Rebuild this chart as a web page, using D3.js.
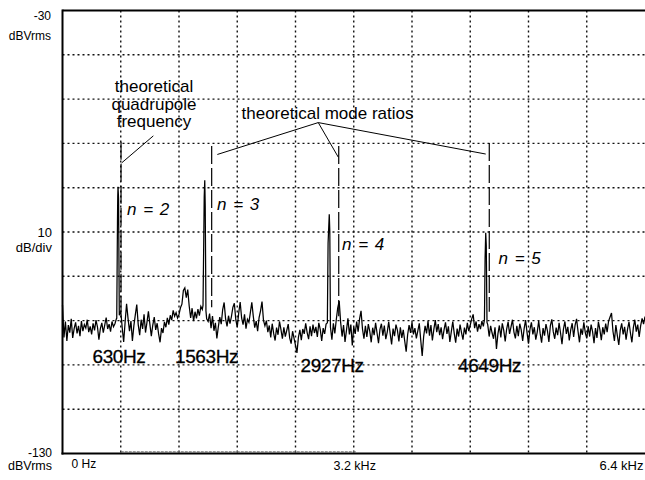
<!DOCTYPE html>
<html>
<head>
<meta charset="utf-8">
<script src="https://cdn.jsdelivr.net/npm/d3@7"></script>
<style>
  html, body { margin: 0; padding: 0; background: #fff; }
  svg { display: block; }
  text { font-family: "Liberation Sans", Arial, Helvetica, sans-serif; fill: #000; }
</style>
</head>
<body>
<svg id="chart" width="645" height="480"></svg>
<script>
// analyzer span and reference level
const spanHz = [0, 6400]
const rangeDb = [-130, -30]
const gridHz = [640, 1280, 1920, 2560, 3200, 3840, 4480, 5120, 5760]
const gridDb = [-120, -110, -100, -90, -80, -70, -60, -50, -40]

// 400 line FFT, one reading every 16 Hz
const binStepHz = 16
const noiseDb = [
  -96.5, -103.8, -100.2, -104.6, -101.0, -102.7, -99.6, -103.9, -101.8, -100.4, -102.9, -101.2, -103.5, -100.1, -102.4, -100.9, -101.7, -99.8, -102.6, -101.3,
  -103.1, -100.6, -102.2, -99.9, -101.4, -104.3, -101.8, -100.5, -102.7, -101.0, -99.3, -101.9, -100.8, -102.5, -100.2, -101.4, -100.7, -99.6, -100.9, -99.1,
  -97.8, -101.6, -104.8, -100.3, -96.2, -99.5, -102.4, -100.1, -104.6, -101.2, -98.7, -96.4, -100.9, -103.3, -99.8, -101.9, -98.6, -102.7, -100.4, -97.9,
  -100.8, -103.5, -101.0, -99.2, -102.1, -100.6, -103.0, -104.9, -101.7, -102.8, -100.3, -101.5, -99.4, -100.9, -98.8, -99.9, -97.7, -99.0, -98.2, -99.4,
  -98.6, -97.1, -96.3, -93.2, -92.6, -94.8, -93.0, -96.7, -99.4, -97.2, -100.1, -98.0, -99.5, -97.4, -98.9, -96.8, -97.5, -95.0, -97.0, -99.6,
  -100.2, -98.4, -101.7, -99.0, -102.3, -100.5, -104.0, -101.4, -99.2, -100.8, -97.5, -95.9, -99.6, -101.3, -98.9, -100.7, -99.1, -97.0, -96.1, -99.8,
  -101.5, -98.3, -95.8, -99.4, -100.9, -98.6, -101.8, -99.7, -100.4, -98.2, -95.9, -99.0, -101.6, -100.1, -102.4, -99.3, -97.8, -95.7, -99.9, -101.2,
  -100.0, -102.6, -101.1, -103.8, -100.7, -102.9, -104.5, -101.6, -103.2, -100.2, -102.0, -104.1, -101.5, -103.6, -102.2, -100.8, -103.9, -105.2, -102.4, -104.0,
  -105.6, -107.3, -103.8, -102.1, -104.4, -101.9, -103.0, -100.6, -102.7, -104.2, -101.3, -103.5, -100.9, -102.8, -101.4, -103.7, -100.5, -102.0, -104.6, -101.7,
  -103.0, -100.8, -99.0, -99.0, -101.9, -104.3, -100.6, -102.9, -99.8, -97.1, -95.6, -100.4, -103.6, -101.0, -104.8, -102.2, -99.5, -103.1, -100.9, -105.6,
  -101.4, -103.0, -100.2, -102.5, -99.6, -97.8, -101.9, -104.1, -101.2, -103.7, -100.8, -102.4, -104.9, -101.6, -103.3, -100.5, -102.8, -105.1, -102.0, -100.7,
  -103.4, -101.1, -104.2, -102.6, -100.3, -102.9, -105.4, -101.8, -103.5, -100.9, -102.2, -104.7, -101.5, -103.9, -102.1, -104.6, -107.0, -103.2, -101.0, -102.8,
  -100.4, -103.1, -101.7, -104.0, -102.3, -100.6, -104.4, -108.0, -103.6, -101.2, -102.9, -100.1, -103.4, -101.0, -104.5, -102.0, -99.9, -102.6, -100.8, -103.3,
  -101.5, -104.2, -102.1, -100.4, -103.0, -101.3, -104.8, -102.5, -100.2, -102.9, -105.0, -101.8, -103.6, -100.9, -102.7, -104.3, -101.6, -103.1, -100.5, -102.4,
  -101.0, -99.6, -98.6, -101.7, -100.2, -102.5, -100.8, -101.9, -100.1, -101.3, -99.7, -100.0, -100.9, -103.6, -101.2, -102.8, -104.1, -101.5, -106.4, -103.0,
  -101.1, -103.8, -100.6, -102.2, -104.7, -101.9, -100.3, -103.0, -101.4, -99.8, -102.6, -104.0, -101.2, -103.5, -100.7, -102.1, -104.6, -101.8, -99.9, -102.7,
  -105.2, -102.0, -100.4, -103.1, -101.5, -104.3, -102.6, -100.1, -102.9, -105.0, -101.7, -103.4, -100.8, -102.3, -104.8, -101.2, -99.7, -102.5, -104.1, -101.6,
  -103.3, -100.5, -102.8, -105.3, -101.9, -100.2, -103.0, -101.4, -104.5, -102.1, -100.6, -103.7, -101.0, -99.6, -102.4, -104.9, -101.8, -103.2, -100.4, -102.7,
  -104.0, -101.3, -103.6, -100.9, -102.5, -105.1, -101.7, -103.9, -100.3, -102.0, -104.4, -101.5, -103.1, -100.7, -102.6, -100.1, -99.2, -98.3, -102.4, -104.6,
  -101.0, -103.4, -105.5, -102.2, -100.6, -103.1, -101.4, -104.3, -102.0, -100.3, -102.8, -104.9, -101.6, -99.8, -102.5, -100.9, -103.7, -101.2, -99.5, -100.8,
  -99.1
]

// the four resonance spikes, finer readings
const spikeHz = [
  [596, 604, 607, 610, 616, 624],
  [1544, 1551, 1557, 1563, 1568, 1576],
  [2910, 2918, 2925, 2931, 2937, 2944],
  [4636, 4643, 4650, 4656, 4664]
]
const spikeDb = [
  [-99.5, -78.0, -72.0, -69.8, -72.5, -98.8],
  [-96.5, -83.6, -72.1, -68.3, -74.0, -97.8],
  [-100.5, -82.5, -79.0, -76.0, -80.0, -101.5],
  [-99.8, -86.0, -80.2, -83.0, -100.4]
]
const modeNames = ["n = 2", "n = 3", "n = 4", "n = 5"]
const markerLabels = ["630Hz", "1563Hz", "2927Hz", "4649Hz"]

// theoretical frequencies (dashed markers)
const theoryHz = [643, 1639, 3035, 4689]
const theoryTopDb = [-59.6, -60.6, -60.6, -59.9]
const theoryBottomDb = [-98.0, -97.0, -99.0, -98.0]

// faint under-range trace lying on the bottom line
const underHz = [640, 3230]
const underDb = [-129.6, -129.6]

const svg = d3.select("#chart")
const x = d3.scaleLinear().domain(spanHz).range([62.5, 645])
const y = d3.scaleLinear().domain(rangeDb).range([453.5, 10.5])

// dotted graticule
const grid = svg.append("g").attr("stroke", "#111").attr("stroke-width", 1.4).attr("stroke-dasharray", "2,3")
grid.selectAll(".vgrid").data(gridHz).join("line")
  .attr("x1", d => x(d)).attr("x2", d => x(d))
  .attr("y1", y(-30)).attr("y2", y(-130))
grid.selectAll(".hgrid").data(gridDb).join("line")
  .attr("x1", x(0)).attr("x2", x(6400))
  .attr("y1", d => y(d)).attr("y2", d => y(d))

svg.append("line")
  .attr("x1", x(underHz[0])).attr("x2", x(underHz[1]))
  .attr("y1", y(underDb[0])).attr("y2", y(underDb[1]))
  .attr("stroke", "#777").attr("stroke-width", 1.2).attr("stroke-dasharray", "3,1")

// frame
const frame = svg.append("g").attr("stroke", "#000").attr("stroke-width", 2)
frame.append("line").attr("x1", x(0)).attr("x2", x(6400)).attr("y1", y(-30)).attr("y2", y(-30))
frame.append("line").attr("x1", x(0)).attr("x2", x(0)).attr("y1", y(-30) - 1).attr("y2", y(-130) + 1)
frame.append("line").attr("x1", x(0) - 1).attr("x2", x(6400)).attr("y1", y(-130)).attr("y2", y(-130))

// build the trace: bins outside the spikes + the spike readings
const spikeSpans = spikeHz.map(s => [d3.min(s), d3.max(s)])
let trace = noiseDb.map((db, i) => ({hz: i * binStepHz, db: db}))
  .filter(p => !spikeSpans.some(s => p.hz >= s[0] && p.hz <= s[1]))
spikeHz.forEach((s, k) => s.forEach((hz, j) => trace.push({hz: hz, db: spikeDb[k][j]})))
trace.sort((a, b) => a.hz - b.hz)

const line = d3.line().x(d => x(d.hz)).y(d => y(d.db))
svg.append("path").datum(trace)
  .attr("d", line)
  .attr("fill", "none")
  .attr("stroke", "#000")
  .attr("stroke-width", 1.25)
  .attr("stroke-linejoin", "miter")

// theoretical markers
svg.append("g").selectAll("line").data(theoryHz).join("line")
  .attr("x1", d => x(d)).attr("x2", d => x(d))
  .attr("y1", (d, i) => y(theoryTopDb[i])).attr("y2", (d, i) => y(theoryBottomDb[i]))
  .attr("stroke", "#000").attr("stroke-width", 1.2).attr("stroke-dasharray", "18,4")

// leader lines
const leaders = svg.append("g").attr("stroke", "#000").attr("stroke-width", 1).attr("fill", "none")
leaders.append("line").attr("x1", x(998)).attr("y1", y(-58.3)).attr("x2", x(650)).attr("y2", y(-64.4))
const apex = [2810, -55.3]
const modeTargetHz = [1701, 3030, 4650]
const modeTargetDb = [-62.5, -63.1, -62.4]
leaders.selectAll(".mode").data(modeTargetHz).join("line")
  .attr("x1", x(apex[0])).attr("y1", y(apex[1]))
  .attr("x2", d => x(d)).attr("y2", (d, i) => y(modeTargetDb[i]))

// annotation text
const quad = svg.append("text").attr("text-anchor", "middle").style("font-size", "17px")
;["theoretical", "quadrupole", "frequency"].forEach((t, i) => {
  quad.append("tspan").attr("x", 154).attr("y", 92 + i * 17.5).text(t)
})
svg.append("text").attr("x", 241.5).attr("y", 119).style("font-size", "17px").text("theoretical mode ratios")

const modePos = [[127, 215], [217, 210], [342, 250], [498.5, 264]]
svg.append("g").selectAll("text").data(modeNames).join("text")
  .attr("x", (d, i) => modePos[i][0]).attr("y", (d, i) => modePos[i][1])
  .style("font-size", "17px").style("font-style", "italic").style("word-spacing", "2px")
  .text(d => d)

const markerPos = [[92.5, 362.5], [175, 362.5], [300.5, 371.5], [458, 371.5]]
svg.append("g").selectAll("text").data(markerLabels).join("text")
  .attr("x", (d, i) => markerPos[i][0]).attr("y", (d, i) => markerPos[i][1])
  .style("font-size", "19px").style("letter-spacing", "-0.4px")
  .attr("stroke", "#000").attr("stroke-width", 0.3)
  .text(d => d)

// axis captions
const cap = (t, xx, yy, size, anchor) => svg.append("text")
  .attr("x", xx).attr("y", yy).attr("text-anchor", anchor)
  .style("font-size", size + "px").text(t)
cap("-30", 51, 19.5, 12, "end")
cap("dBVrms", 51, 39.5, 12, "end")
cap("10", 52, 236.5, 13, "end")
cap("dB/div", 52, 251.5, 13, "end")
cap("-130", 52, 456.5, 12, "end")
cap("dBVrms", 52, 469.5, 12.5, "end")
cap("0 Hz", 71.5, 467.5, 12, "start")
cap("3.2 kHz", 333.5, 470, 12.5, "start")
cap("6.4 kHz", 643.5, 470, 13, "end")
</script>
</body>
</html>
